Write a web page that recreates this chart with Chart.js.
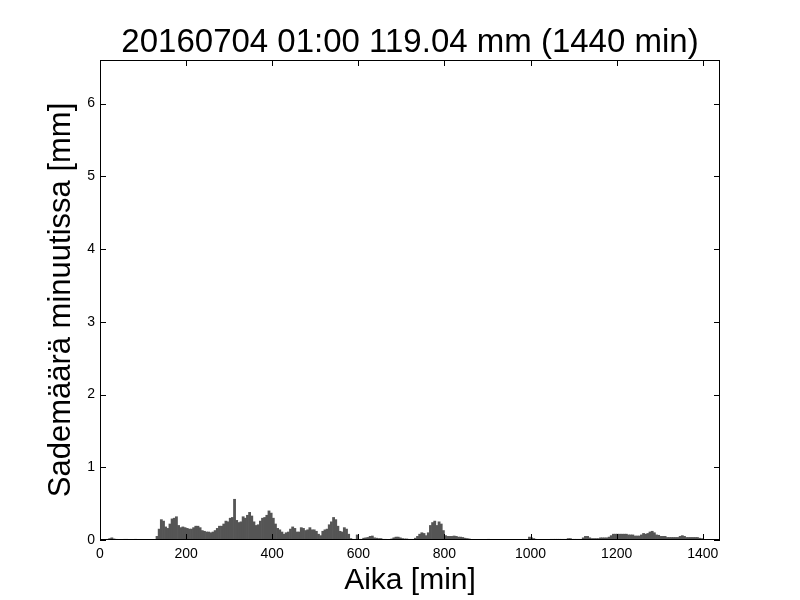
<!DOCTYPE html>
<html>
<head>
<meta charset="utf-8">
<script src="https://cdn.jsdelivr.net/npm/chart.js@4.4.1/dist/chart.umd.min.js"></script>
<style>
  html, body { margin: 0; padding: 0; background: #fff; }
  canvas { display: block; }
</style>
</head>
<body>
<canvas id="c" width="800" height="600"></canvas>
<script>
// ---- data ----
const titleText = '20160704 01:00 119.04 mm (1440 min)';
const xLabel = 'Aika [min]';
const yLabel = 'Sademäärä minuutissa [mm]';
const blockMinutes = 5;            // each value = mean rain per minute within a 5-minute block
const xTicks = [0, 200, 400, 600, 800, 1000, 1200, 1400];
const yTicks = [0, 1, 2, 3, 4, 5, 6];
const xMax = 1440;
const yMax = 6.6;
// mm per minute, blocks starting at minute 0, 5, 10, ... 1435
const rain = [
  0,0,0.005,0.01,0.02,0.03,0.015,0.01,0.005,0.005,
  0,0.01,0.01,0.005,0,0.005,0.01,0.005,0.005,0,
  0,0,0,0,0,0.005,
  0.05,0.15,0.28,0.26,0.18,0.16,0.22,0.29,0.30,0.32,0.20,0.17,0.18,0.17,
  0.16,0.15,0.15,0.17,0.19,0.19,0.17,0.13,0.12,0.11,0.11,0.10,0.11,0.13,0.16,0.19,0.19,0.22,0.26,0.25,
  0.30,0.31,0.56,0.27,0.24,0.25,0.32,0.30,0.34,0.38,0.33,0.25,0.20,0.21,0.26,0.30,0.31,0.34,0.40,0.37,
  0.30,0.22,0.16,0.14,0.11,0.08,0.10,0.11,0.15,0.18,0.16,0.11,0.11,0.17,0.16,0.13,0.14,0.17,0.14,0.14,
  0.12,0.08,0.06,0.12,0.14,0.15,0.21,0.25,0.31,0.28,0.19,0.12,0.11,0.17,0.15,0.08,0.02,0.01,0.01,0.07,
  0.01,0.01,0.025,0.03,0.035,0.05,0.055,0.03,0.025,0.02,0.02,0.01,0.01,0.005,0.005,0.015,0.03,0.04,0.04,0.03,
  0.02,0.015,0.015,0.01,0.01,0.01,0.025,0.05,0.08,0.10,0.09,0.06,0.10,0.20,0.24,0.26,0.20,0.25,0.22,0.13,
  0.06,0.05,0.05,0.05,0.055,0.05,0.04,0.04,0.035,0.025,0.02,0.015,0.005,0.005,0.005,0,0,0.005,0,0,
  0.01,0.005,0,0,0.005,0,0,0,0.005,0,0,0.005,0,0,0,0.005,0,0,0,0.04,
  0.03,0.02,0.01,0.005,0.005,0.005,0.005,0.005,0.005,0.01,0.01,0.01,0.01,0.01,0.01,0.01,0.01,0.02,0.02,0.01,
  0.01,0.01,0.01,0.01,0.03,0.05,0.05,0.03,0.02,0.02,0.02,0.02,0.03,0.03,0.03,0.03,0.04,0.06,0.08,0.08,
  0.08,0.08,0.08,0.08,0.08,0.07,0.07,0.07,0.055,0.055,0.055,0.07,0.09,0.08,0.09,0.11,0.12,0.10,0.07,0.065,
  0.05,0.05,0.05,0.035,0.035,0.035,0.035,0.035,0.035,0.05,0.06,0.05,0.035,0.035,0.035,0.035,0.035,0.035,0.025,0.02,
  0,0,0,0,0,0,0,0
];

// ---- chart ----
const FONT = "'Liberation Sans', Arial, Helvetica, sans-serif";
const points = rain.map((v, i) => ({ x: i * blockMinutes + blockMinutes / 2, y: v }));

const frame = {
  id: 'frame',
  afterDraw(chart) {
    const { ctx, chartArea: a, scales: { x, y } } = chart;
    const len = 6;
    ctx.save();
    ctx.strokeStyle = '#000';
    ctx.lineWidth = 1;
    ctx.beginPath();
    x.ticks.forEach(t => {
      const px = Math.round(x.getPixelForValue(t.value)) + 0.5;
      ctx.moveTo(px, a.bottom); ctx.lineTo(px, a.bottom - len);
      ctx.moveTo(px, a.top); ctx.lineTo(px, a.top + len);
    });
    y.ticks.forEach(t => {
      const py = Math.round(y.getPixelForValue(t.value)) + 0.5;
      ctx.moveTo(a.left, py); ctx.lineTo(a.left + len, py);
      ctx.moveTo(a.right, py); ctx.lineTo(a.right - len, py);
    });
    ctx.stroke();
    ctx.strokeRect(Math.round(a.left) + 0.5, Math.round(a.top) + 0.5,
                   Math.round(a.right - a.left) - 1, Math.round(a.bottom - a.top) - 1);
    ctx.restore();
  }
};

new Chart(document.getElementById('c'), {
  type: 'bar',
  data: {
    datasets: [{
      data: points,
      backgroundColor: '#555555',
      borderWidth: 0,
      barPercentage: 1,
      categoryPercentage: 1
    }]
  },
  options: {
    responsive: false,
    animation: false,
    layout: { padding: { left: 0, right: 80, top: 0, bottom: 0 } },
    plugins: {
      legend: { display: false },
      tooltip: { enabled: false },
      title: {
        display: true,
        text: titleText,
        fullSize: false,
        color: '#000',
        font: { family: FONT, size: 33, weight: 'normal', lineHeight: 1 },
        padding: { top: 26, bottom: 1 }
      }
    },
    scales: {
      x: {
        type: 'linear',
        min: 0,
        max: xMax,
        offset: false,
        grid: { display: false, drawTicks: false, offset: false },
        border: { display: false },
        afterBuildTicks: s => { s.ticks = xTicks.map(v => ({ value: v })); },
        afterFit: s => { s.height = 60; s.paddingLeft = 0; s.paddingRight = 0; },
        ticks: {
          color: '#000',
          padding: 6,
          maxRotation: 0,
          autoSkip: false,
          font: { family: FONT, size: 14 },
          callback: v => String(v)
        },
        title: {
          display: true,
          text: xLabel,
          color: '#000',
          font: { family: FONT, size: 30, lineHeight: 1.2 },
          padding: { top: 0, bottom: 1 }
        }
      },
      y: {
        min: 0,
        max: yMax,
        grid: { display: false, drawTicks: false },
        border: { display: false },
        afterBuildTicks: s => { s.ticks = yTicks.map(v => ({ value: v })); },
        afterFit: s => { s.width = 100; s.paddingTop = 0; s.paddingBottom = 0; },
        ticks: {
          color: '#000',
          padding: 5,
          autoSkip: false,
          font: { family: FONT, size: 14 },
          callback: v => String(v)
        },
        title: {
          display: true,
          text: yLabel,
          color: '#000',
          font: { family: FONT, size: 31, lineHeight: 1.2 },
          padding: { top: 43, bottom: 0 }
        }
      }
    }
  },
  plugins: [frame]
});
</script>
</body>
</html>
